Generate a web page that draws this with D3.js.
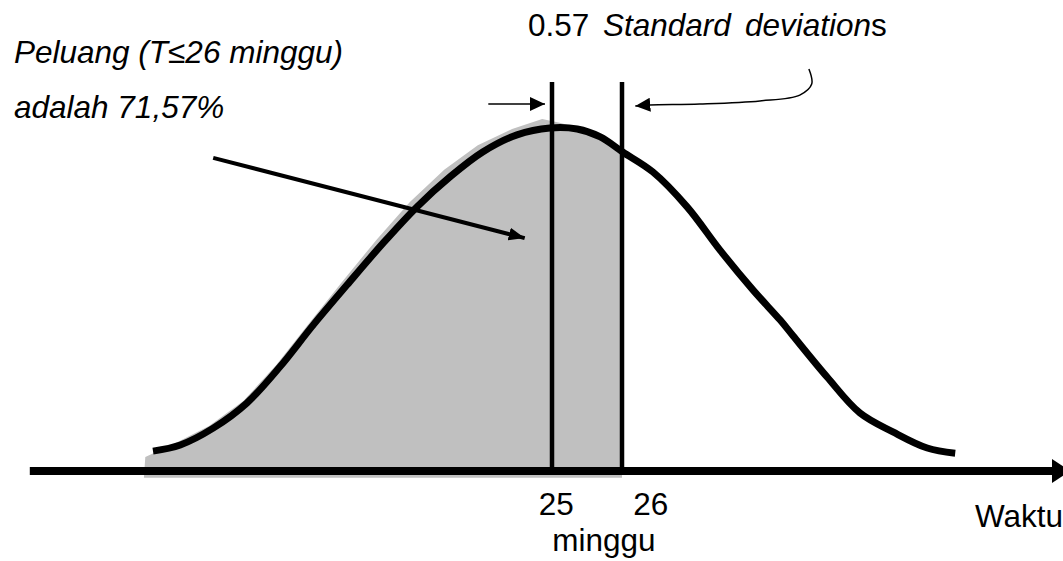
<!DOCTYPE html>
<html>
<head>
<meta charset="utf-8">
<script src="https://cdn.jsdelivr.net/npm/d3@7.9.0/dist/d3.min.js"></script>
<style>
  html, body { margin: 0; padding: 0; background: #fff; }
  svg { display: block; }
  text { font-family: "Liberation Sans", Arial, sans-serif; font-size: 31.5px; fill: #000; }
</style>
</head>
<body>
<div id="chart"></div>
<script>
// time in weeks along the axis, relative curve height (0 = axis, 1 = peak)
const curveWeeks   = [19.30, 19.69, 20.16, 20.64, 21.11, 21.59, 22.07, 22.59, 23.07, 23.54, 24.01, 24.50, 24.97, 25.36, 25.69, 26.01, 26.44, 26.93, 27.40, 27.87, 28.26, 28.44, 28.93, 29.40, 29.87, 30.36, 30.76];
const curveHeights = [0.058, 0.076, 0.125, 0.198, 0.303, 0.426, 0.542, 0.665, 0.770, 0.857, 0.930, 0.980, 1.000, 0.997, 0.974, 0.930, 0.872, 0.770, 0.644, 0.528, 0.440, 0.395, 0.274, 0.169, 0.114, 0.067, 0.052];

// shaded area (T <= 26 weeks), slightly off the curve like the hand drawing
const shadeWeeks   = [19.17, 19.19, 19.63, 20.10, 20.59, 21.06, 21.53, 22.00, 22.50, 22.97, 23.46, 23.94, 24.43, 24.86, 25.11, 25.54, 26.00, 26.00];
const shadeHeights = [-0.020, 0.041, 0.082, 0.131, 0.204, 0.309, 0.431, 0.551, 0.676, 0.784, 0.878, 0.950, 0.997, 1.026, 1.015, 0.991, 0.942, -0.020];

// vertical markers
const markerWeeks = [25, 26];
const markerTop = 1.134;

// tick labels under the axis
const tickLabels = ["25", "26"];
const tickLabelWeeks = [25.06, 26.41];
const unitLabel = "minggu";
const axisLabel = "Waktu";
const axisRange = [17.54, 32.4];

// annotations
const noteLines = ["Peluang (T\u226426 minggu)", "adalah 71,57%"];
const sdValue = "0.57";
const diagArrow = [[20.16, 0.913], [24.61, 0.679]];
const shortArrow = [[24.09, 1.070], [24.90, 1.070]];
const curlyArrow = [[28.67, 1.172], [28.71, 1.128], [28.54, 1.096], [27.97, 1.079], [27.11, 1.070], [26.40, 1.067], [26.19, 1.064]];

const width = 1063;
const height = 561;

const svg = d3.select('#chart')
  .append('svg')
  .attr('width', width)
  .attr('height', height);

const x = d3.scaleLinear().domain([17.5, 32.5]).range([27, 1077]);
const y = d3.scaleLinear().domain([0, 1]).range([471, 128]);

const defs = svg.append('defs');
function addHead(id, w, h) {
  defs.append('marker')
    .attr('id', id)
    .attr('viewBox', `0 0 ${w} ${h}`)
    .attr('refX', w)
    .attr('refY', h / 2)
    .attr('markerUnits', 'userSpaceOnUse')
    .attr('markerWidth', w)
    .attr('markerHeight', h)
    .attr('orient', 'auto')
    .append('path')
    .attr('d', `M0,0L${w},${h / 2}L0,${h}Z`)
    .attr('fill', '#000');
}
addHead('headBig', 16, 13);
addHead('headSmall', 15, 14);

// shaded probability area
const shade = shadeWeeks.map((w, i) => [w, shadeHeights[i]]);
svg.append('path')
  .attr('d', d3.line().x(d => x(d[0])).y(d => y(d[1]))(shade) + 'Z')
  .attr('fill', '#c0c0c0');

// time axis with arrow
const axisY = y(0);
svg.append('line')
  .attr('x1', x(axisRange[0]))
  .attr('x2', x(axisRange[1]) - 16)
  .attr('y1', axisY)
  .attr('y2', axisY)
  .attr('stroke', '#000')
  .attr('stroke-width', 8);
svg.append('path')
  .attr('d', `M${x(axisRange[1]) - 18},${axisY - 12}L${x(axisRange[1])},${axisY}L${x(axisRange[1]) - 18},${axisY + 12}Z`)
  .attr('fill', '#000');

// distribution curve
const curve = curveWeeks.map((w, i) => [w, curveHeights[i]]);
svg.append('path')
  .attr('d', d3.line().x(d => x(d[0])).y(d => y(d[1])).curve(d3.curveCatmullRom)(curve))
  .attr('fill', 'none')
  .attr('stroke', '#000')
  .attr('stroke-width', 7);

// 25 and 26 weeks markers
svg.selectAll('line.marker')
  .data(markerWeeks)
  .join('line')
  .attr('class', 'marker')
  .attr('x1', d => x(d))
  .attr('x2', d => x(d))
  .attr('y1', y(markerTop))
  .attr('y2', axisY)
  .attr('stroke', '#000')
  .attr('stroke-width', 4.5);

// arrows
const line = d3.line().x(d => x(d[0])).y(d => y(d[1]));
svg.append('path')
  .attr('d', line(diagArrow))
  .attr('fill', 'none')
  .attr('stroke', '#000')
  .attr('stroke-width', 4)
  .attr('marker-end', 'url(#headBig)');
svg.append('path')
  .attr('d', line(shortArrow))
  .attr('fill', 'none')
  .attr('stroke', '#000')
  .attr('stroke-width', 1.5)
  .attr('marker-end', 'url(#headSmall)');
svg.append('path')
  .attr('d', line.curve(d3.curveCatmullRom)(curlyArrow))
  .attr('fill', 'none')
  .attr('stroke', '#000')
  .attr('stroke-width', 1.5)
  .attr('marker-end', 'url(#headSmall)');

// tick labels
svg.selectAll('text.tick')
  .data(tickLabels)
  .join('text')
  .attr('class', 'tick')
  .attr('x', (d, i) => x(tickLabelWeeks[i]))
  .attr('y', 515)
  .attr('text-anchor', 'middle')
  .text(d => d);

svg.append('text')
  .attr('x', 604)
  .attr('y', 551)
  .attr('text-anchor', 'middle')
  .text(unitLabel);

svg.append('text')
  .attr('x', 975)
  .attr('y', 527)
  .text(axisLabel);

// probability note
svg.selectAll('text.note')
  .data(noteLines)
  .join('text')
  .attr('class', 'note')
  .attr('x', 14)
  .attr('y', (d, i) => 63 + i * 55)
  .style('font-style', 'italic')
  .text(d => d);

// standard deviation note
const sd = svg.append('text').attr('y', 36);
sd.append('tspan').attr('x', 528).text(sdValue);
sd.append('tspan').attr('x', 603).style('font-style', 'italic').text('Standard');
sd.append('tspan').attr('x', 745).style('font-style', 'italic').text('deviation');
sd.append('tspan').text('s');
</script>
</body>
</html>
